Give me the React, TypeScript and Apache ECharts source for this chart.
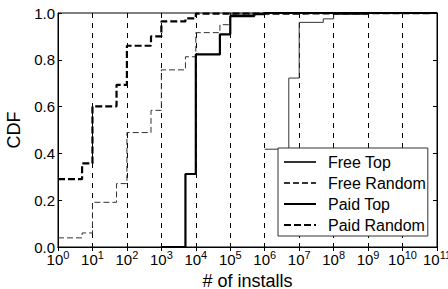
import React, { useEffect, useRef } from "react";
import * as echarts from "echarts";

// Step CDF data: [installs, CDF]
const freeTop: [number, number][] = [
  [1e6, 0.418], [5e6, 0.722], [1e7, 0.96], [5e7, 0.975], [1e8, 0.994], [1e9, 1], [1e11, 1],
];
const freeRandom: [number, number][] = [
  [1, 0.039], [5, 0.06], [10, 0.191], [50, 0.271], [100, 0.489], [500, 0.584], [1000, 0.757],
  [5000, 0.813], [1e4, 0.916], [5e4, 0.95], [1e5, 0.995], [1e6, 1], [1e11, 1],
];
const paidTop: [number, number][] = [
  [1000, 0], [5000, 0.312], [1e4, 0.823], [5e4, 0.909], [1e5, 0.987], [5e5, 0.995], [1e6, 1], [1e11, 1],
];
const paidRandom: [number, number][] = [
  [1, 0.29], [5, 0.357], [10, 0.601], [50, 0.693], [100, 0.86], [500, 0.9], [1000, 0.964],
  [5000, 0.977], [1e4, 0.997], [1e6, 1], [1e11, 1],
];
const seriesNames = ["Free Top", "Free Random", "Paid Top", "Paid Random"];

const FONT = "'Liberation Sans', Arial, Helvetica, sans-serif";

export default function App() {
  const ref = useRef<HTMLDivElement>(null);
  useEffect(() => {
    if (!ref.current) return;
    const chart = echarts.init(ref.current, undefined, { renderer: "svg" });
    const thin = "#333";
    const mk = (name: string, data: [number, number][], width: number, type: any, color: string) => ({
      name,
      type: "line",
      step: "end",
      data,
      symbol: "none",
      showSymbol: false,
      lineStyle: { color, width, type },
      itemStyle: { color },
      xAxisIndex: 0,
      yAxisIndex: 0,
    });
    chart.setOption({
      animation: false,
      textStyle: { fontFamily: FONT },
      grid: {
        left: 58, right: 11, top: 13, bottom: 42,
        containLabel: false, outerBoundsMode: "none",
        show: true, borderColor: "#000", borderWidth: 1, backgroundColor: "transparent",
      },
      legend: {
        orient: "vertical",
        left: 278,
        top: 148,
        data: seriesNames,
        itemWidth: 32,
        itemHeight: 12,
        itemGap: 5,
        padding: [6, 2, 3, 5],
        backgroundColor: "#fff",
        borderColor: "#333",
        borderWidth: 1,
        borderRadius: 0,
        itemStyle: { opacity: 0 },
        textStyle: { fontFamily: FONT, fontSize: 16, lineHeight: 15, color: "#000", padding: [0, 0, 0, 7] },
      },
      xAxis: [
        {
          type: "log",
          logBase: 10,
          min: 1,
          max: 1e11,
          interval: 1,
          name: "# of installs",
          nameLocation: "middle",
          nameGap: 23,
          nameTextStyle: { fontFamily: FONT, fontSize: 18, color: "#000", verticalAlign: "top" },
          axisLine: { show: true, lineStyle: { color: "#000", width: 1 } },
          axisTick: { show: true, inside: true, length: 4, lineStyle: { color: "#000" } },
          minorTick: { show: false },
          splitLine: { show: true, lineStyle: { color: "#000", width: 1, type: [5, 5] } },
          axisLabel: {
            margin: 2,
            color: "#000",
            formatter: (v: number) => "{b|10}{s|" + Math.round(Math.log10(v)) + "}",
            rich: {
              b: { fontFamily: FONT, fontSize: 15, color: "#000", lineHeight: 18, verticalAlign: "bottom" },
              s: { fontFamily: FONT, fontSize: 11, color: "#000", lineHeight: 18, verticalAlign: "top", padding: [0, 0, 4, 0] },
            },
          },
        },
        {
          type: "log",
          logBase: 10,
          min: 1,
          max: 1e11,
          interval: 1,
          position: "top",
          axisLine: { show: true, lineStyle: { color: "#000", width: 1 } },
          axisTick: { show: true, inside: true, length: 4, lineStyle: { color: "#000" } },
          axisLabel: { show: false },
          splitLine: { show: false },
        },
      ],
      yAxis: [
        {
          type: "value",
          min: 0,
          max: 1,
          interval: 0.2,
          name: "CDF",
          nameLocation: "middle",
          nameGap: 33,
          nameTextStyle: { fontFamily: FONT, fontSize: 18, color: "#000" },
          axisLine: { show: true, lineStyle: { color: "#000", width: 1 } },
          axisTick: { show: true, inside: true, length: 4, lineStyle: { color: "#000" } },
          splitLine: { show: false },
          axisLabel: {
            margin: 3,
            fontFamily: FONT,
            fontSize: 15,
            color: "#000",
            formatter: (v: number) => v.toFixed(1),
          },
        },
        {
          type: "value",
          min: 0,
          max: 1,
          interval: 0.2,
          position: "right",
          axisLine: { show: true, lineStyle: { color: "#000", width: 1 } },
          axisTick: { show: true, inside: true, length: 4, lineStyle: { color: "#000" } },
          splitLine: { show: false },
          axisLabel: { show: false },
        },
      ],
      series: [
        mk("Free Top", freeTop, 1, "solid", thin),
        mk("Free Random", freeRandom, 1, [6, 3], thin),
        mk("Paid Top", paidTop, 2.2, "solid", "#000"),
        mk("Paid Random", paidRandom, 2.2, [7, 3], "#000"),
      ],
    });
    return () => chart.dispose();
  }, []);
  return (
    <div
      ref={ref}
      style={{ position: "fixed", left: 0, top: 0, width: 448, height: 289, background: "#fff" }}
    />
  );
}
